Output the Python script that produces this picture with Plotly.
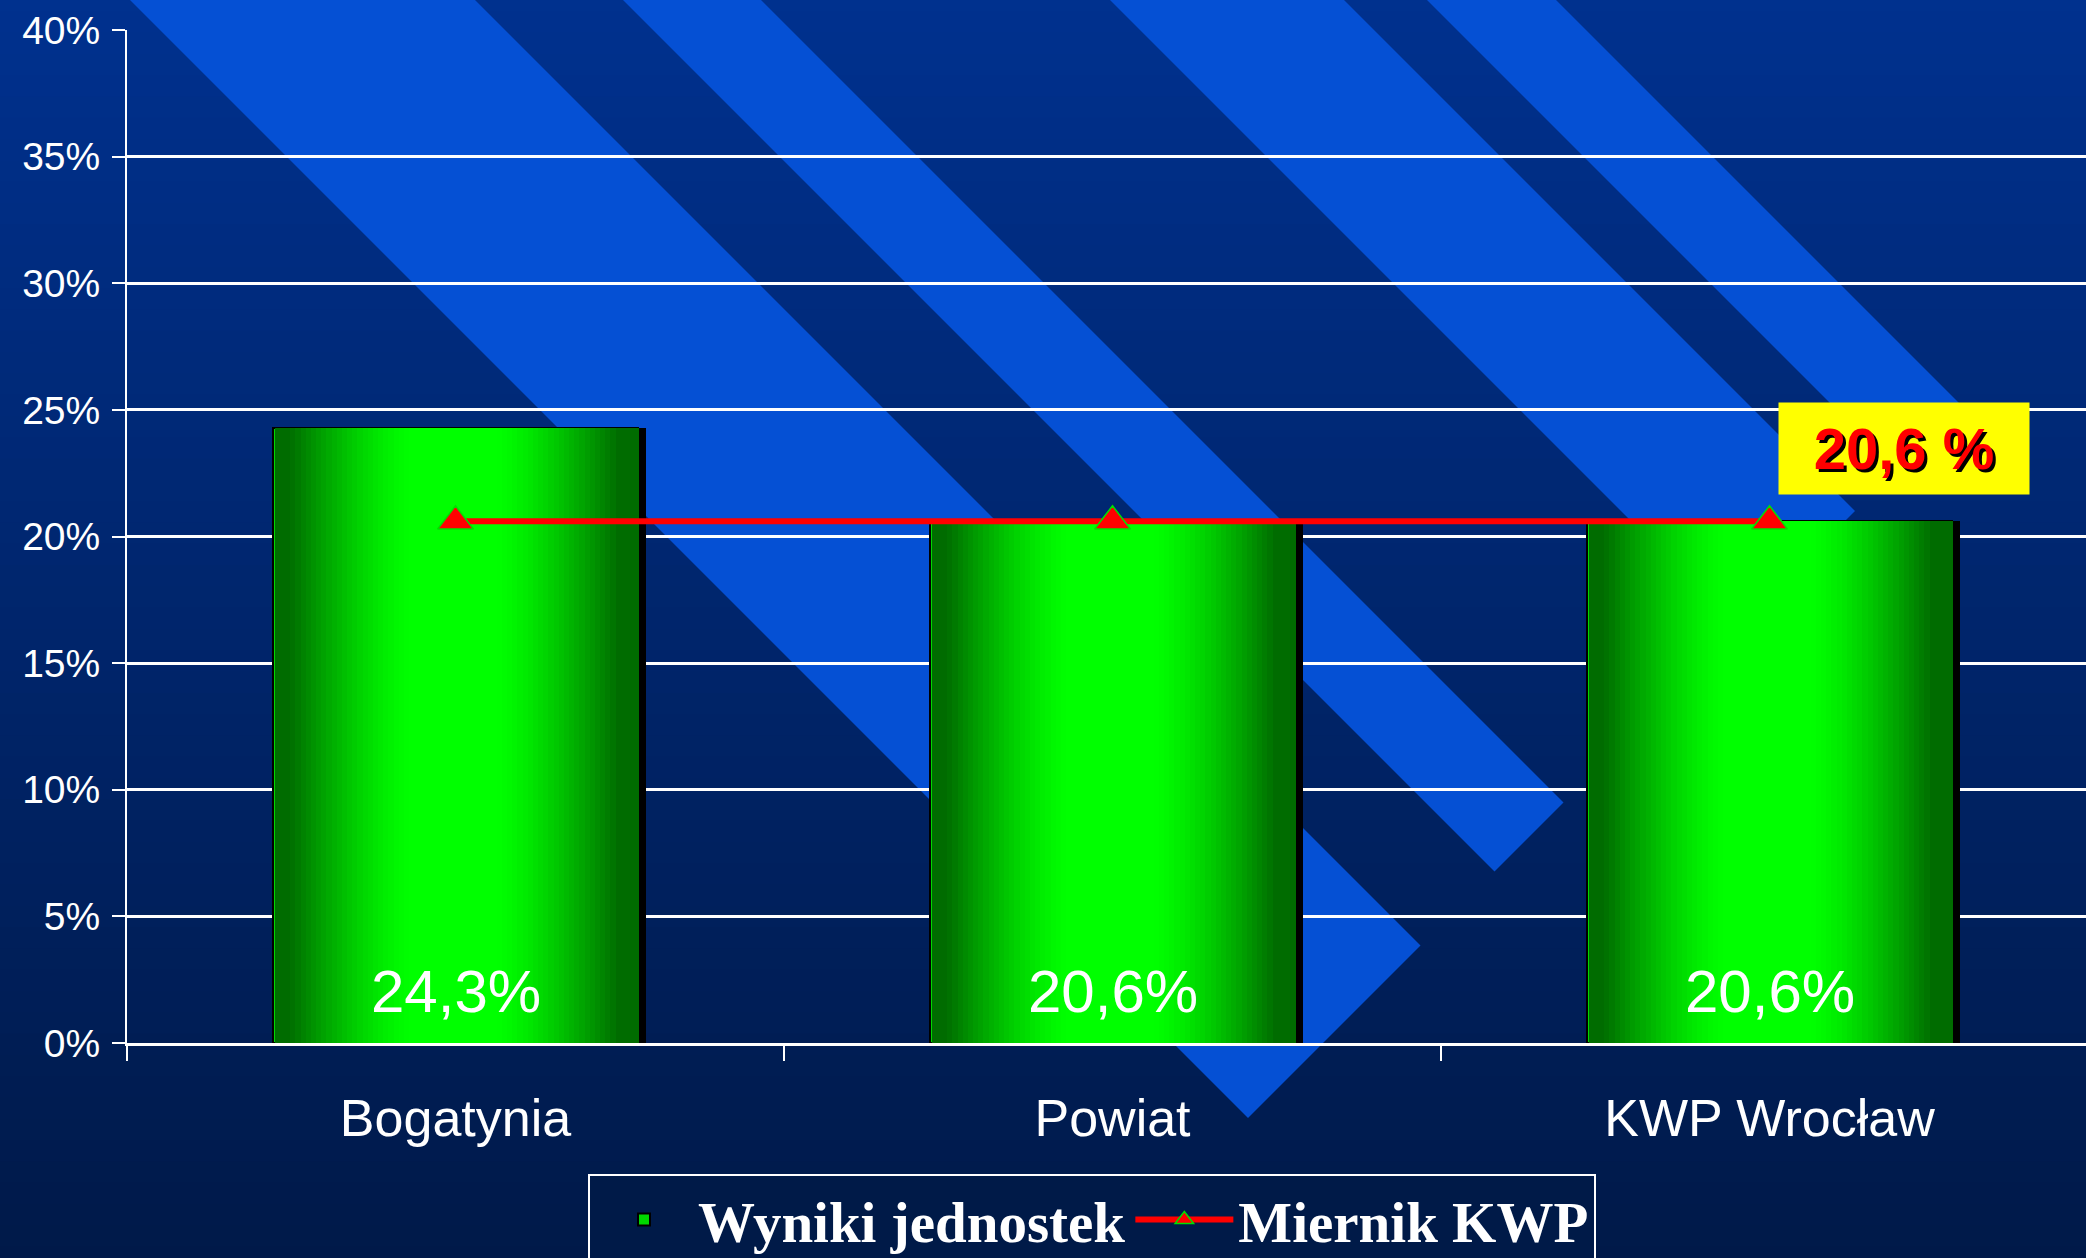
import plotly.graph_objects as go

# ---- data ----
categories = ["Bogatynia", "Powiat", "KWP Wrocław"]
wyniki = [0.243, 0.206, 0.206]          # Wyniki jednostek
miernik = [0.206, 0.206, 0.206]         # Miernik KWP
series_names = ["Wyniki jednostek", "Miernik KWP"]

W, H = 2086, 1258
ML, MR, MT, MB = 127, 0, 30, 215
PW, PH = W - ML - MR, H - MT - MB
CAT_PX = 657                        # pixel width of one category slot
X_MAX = -0.5 + PW / CAT_PX          # visible range end (last slot slightly cut)


def px2paper(px, py):
    return (px - ML) / PW, (H - MB - py) / PH


def fmt(v, sep=""):
    return f"{v * 100:.1f}{sep}%".replace(".", ",")


shapes = []
# background vertical gradient
top_c, bot_c = (0, 0x31, 0x8F), (0, 0x19, 0x48)
NB = 60
y0px, y1px = -10, H + 10
for i in range(NB):
    a = y0px + (y1px - y0px) * i / NB
    b = y0px + (y1px - y0px) * (i + 1) / NB + 1
    t = (i + 0.5) / NB
    c = tuple(round(top_c[k] + (bot_c[k] - top_c[k]) * t) for k in range(3))
    xa, ya = px2paper(-10, a)
    xb, yb = px2paper(W + 10, b)
    shapes.append(dict(type="rect", xref="paper", yref="paper", x0=xa, x1=xb,
                       y0=yb, y1=ya, fillcolor="rgb(%d,%d,%d)" % c,
                       line=dict(width=0), layer="below"))

# diagonal decorative stripes (x - y = c), cut by x + y = K
K = 2366
bands = [(130, 475), (623, 761), (1110, 1344), (1427, 1556)]
for c1, c2 in bands:
    yt = -20
    pts = [(c1 + yt, yt), (c2 + yt, yt), ((K + c2) / 2, (K - c2) / 2),
           ((K + c1) / 2, (K - c1) / 2)]
    pp = [px2paper(x, y) for x, y in pts]
    path = "M " + " L ".join(f"{x:.5f},{y:.5f}" for x, y in pp) + " Z"
    shapes.append(dict(type="path", xref="paper", yref="paper", path=path,
                       fillcolor="#0550D4", line=dict(width=0), layer="below"))

fig = go.Figure()

BW = 0.555
# shadow
fig.add_trace(go.Bar(x=categories, y=wyniki, width=BW, offset=-BW / 2 + 8 / CAT_PX,
                     marker=dict(color="black", line=dict(width=0)),
                     showlegend=False, hoverinfo="skip"))
# base bar with outline (legend entry)
fig.add_trace(go.Bar(x=categories, y=wyniki, width=BW, offset=-BW / 2,
                     name=series_names[0],
                     marker=dict(color="#00D800", line=dict(color="black", width=2))))

# horizontal gradient strips
N = 70
inset = 1.5 / CAT_PX
inner = BW - 2 * inset
sw = inner / N


def green(t):
    if t < 0.48:
        f = (t - 0.04) / 0.34
    else:
        f = (0.95 - t) / 0.34
    f = max(0.0, min(1.0, f))
    f = 1 - (1 - f) ** 1.4
    g = 0x6C + (0xFF - 0x6C) * f
    return "rgb(0,%d,0)" % round(g)


for j in range(N):
    t = (j + 0.5) / N
    fig.add_trace(go.Bar(x=categories, y=wyniki, width=sw * 1.6,
                         offset=-BW / 2 + inset + j * sw,
                         marker=dict(color=green(t), line=dict(width=0)),
                         showlegend=False, hoverinfo="skip"))

# Miernik line
fig.add_trace(go.Scatter(x=categories, y=miernik, mode="lines+markers",
                         name=series_names[1],
                         line=dict(color="#FF0000", width=6),
                         marker=dict(symbol="triangle-up", size=31, color="#FF0000",
                                     line=dict(color="#00E000", width=1.5))))

annotations = []
for cat, v in zip(categories, wyniki):
    annotations.append(dict(x=cat, y=0, xref="x", yref="y", text=fmt(v),
                            showarrow=False, yanchor="middle", yshift=52,
                            font=dict(family="Liberation Sans, Arial", size=60, color="white")))

annotations.append(dict(x=categories[-1], y=miernik[-1], xref="x", yref="y",
                        text=fmt(miernik[-1], " "), showarrow=False,
                        xshift=134, yshift=73, width=250, height=91,
                        bgcolor="#FFFF00", borderpad=0,
                        font=dict(family="Liberation Sans, Arial", size=58, color="#FF0000",
                                  weight="bold", shadow="3px 3px 0px black")))

fig.update_layout(
    width=W, height=H,
    margin=dict(l=ML, r=MR, t=MT, b=MB, autoexpand=False),
    paper_bgcolor="#002060", plot_bgcolor="rgba(0,0,0,0)",
    barmode="overlay", bargap=0,
    shapes=shapes, annotations=annotations,
    showlegend=True,
    legend=dict(orientation="h", x=(588 - ML) / PW, xanchor="left",
                y=(H - MB - 1174) / PH, yanchor="top",
                bgcolor="#001A48", bordercolor="white", borderwidth=2,
                itemwidth=98,
                font=dict(family="Liberation Serif, Times New Roman", size=57,
                          color="white", weight="bold")),
    xaxis=dict(type="category", tickson="boundaries", ticks="outside", ticklen=15,
               tickwidth=2, tickcolor="white", showline=True, linecolor="white",
               linewidth=2.5, showgrid=False, ticklabelstandoff=28,
               tickfont=dict(family="Liberation Sans, Arial", size=52, color="white"),
               range=[-0.5, X_MAX], fixedrange=True),
    yaxis=dict(range=[0, 0.4], dtick=0.05, tickformat=".0%", showgrid=True,
               gridcolor="white", gridwidth=2.5, showline=True, linecolor="white",
               linewidth=2, ticks="outside", ticklen=13, tickwidth=2, tickcolor="white",
               zeroline=False, ticklabelstandoff=4,
               tickfont=dict(family="Liberation Sans, Arial", size=39, color="white"),
               fixedrange=True),
)

fig.write_html(
    "out.html",
    config={"displayModeBar": False},
    post_script="document.body.style.margin='0';document.body.style.overflow='hidden';"
                "document.body.style.background='#001A48';",
)
